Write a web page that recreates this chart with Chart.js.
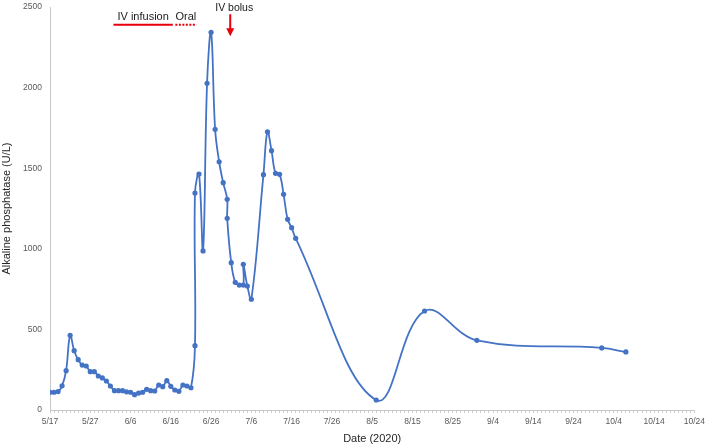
<!DOCTYPE html>
<html>
<head>
<meta charset="utf-8">
<script src="https://cdn.jsdelivr.net/npm/chart.js@4.4.1/dist/chart.umd.min.js"></script>
<style>
  html, body { margin: 0; padding: 0; background: #fff; }
  #wrap { width: 709px; height: 447px; }
</style>
</head>
<body>
<div id="wrap"><canvas id="alpChart"></canvas></div>
<script>
// ---------------------------------------------
// DATA (2020)
// ---------------------------------------------
const sampleDates = [
  "5/17", "5/18", "5/19", "5/20", "5/21", "5/22", "5/23", "5/24", "5/25", "5/26",
  "5/27", "5/28", "5/29", "5/30", "5/31", "6/1", "6/2", "6/3", "6/4", "6/5",
  "6/6", "6/7", "6/8", "6/9", "6/10", "6/11", "6/12", "6/13", "6/14", "6/15",
  "6/16", "6/17", "6/18", "6/19", "6/20", "6/21", "6/22", "6/22", "6/23", "6/24",
  "6/25", "6/26", "6/27", "6/28", "6/29", "6/30", "6/30", "7/1", "7/2", "7/3",
  "7/4", "7/4", "7/5", "7/6", "7/9", "7/10", "7/11", "7/12", "7/13", "7/14",
  "7/15", "7/16", "7/17", "8/6", "8/18", "8/31", "10/1", "10/7"
];
const alpValues = [
  110, 110, 114, 150, 244, 463, 368, 312, 279, 273,
  238, 238, 211, 199, 180, 149, 120, 120, 120, 113,
  110, 95, 105, 110, 128, 120, 118, 155, 145, 182,
  147, 124, 116, 155, 149, 138, 399, 1346, 1464, 987,
  2027, 2343, 1741, 1540, 1410, 1307, 1189, 914, 792, 775,
  775, 904, 769, 687, 1460, 1726, 1609, 1468, 1462, 1338,
  1183, 1131, 1065, 62, 614, 432, 385, 360
];

// x axis: 5/17 .. 10/24, a label every 10 days
const axisStart = "5/17";
const axisEnd = "10/24";
const labelEvery = 10;

// y axis
const yMax = 2500;
const yStep = 500;

// treatment bars on top
const treatmentLabels = ["IV infusion", "Oral"];
const treatmentStart = ["6/2", "6/17"];
const treatmentEnd = ["6/17", "6/22"];
const treatmentDotted = [false, true];
const bolusLabel = "IV bolus";
const bolusDate = "7/1";

// ---------------------------------------------
// HELPERS
// ---------------------------------------------
function toDay(md) {
    const [m, d] = md.split("/").map(Number);
    const [m0, d0] = axisStart.split("/").map(Number);
    return Math.round((Date.UTC(2020, m - 1, d) - Date.UTC(2020, m0 - 1, d0)) / 86400000);
}

function toLabel(day) {
    const [m0, d0] = axisStart.split("/").map(Number);
    const dt = new Date(Date.UTC(2020, m0 - 1, d0 + day));
    return (dt.getUTCMonth() + 1) + "/" + dt.getUTCDate();
}

const FONT = "'Liberation Sans', Arial, sans-serif";
const RED = "#E8000B";

// ---------------------------------------------
// ANNOTATIONS (treatment periods and bolus arrow)
// ---------------------------------------------
const treatmentPlugin = {
    id: "treatments",
    afterDatasetsDraw(chart) {
        const { ctx, scales: { x, y } } = chart;
        ctx.save();
        ctx.font = "11px " + FONT;
        ctx.textAlign = "center";
        ctx.textBaseline = "middle";

        const barY = y.getPixelForValue(2390);
        const textY = y.getPixelForValue(2440);

        treatmentLabels.forEach((label, i) => {
            const x0 = x.getPixelForValue(toDay(treatmentStart[i])) - (i === 0 ? 1 : -0.5);
            const x1 = x.getPixelForValue(toDay(treatmentEnd[i])) + (i === 0 ? -2 : 1.5);
            ctx.strokeStyle = RED;
            ctx.lineWidth = 2;
            ctx.setLineDash(treatmentDotted[i] ? [2, 1.5] : []);
            ctx.beginPath();
            ctx.moveTo(x0, barY);
            ctx.lineTo(x1, barY);
            ctx.stroke();
            ctx.fillStyle = "#1a1a1a";
            ctx.fillText(label, (x0 + x1) / 2, textY);
        });

        // bolus arrow
        ctx.setLineDash([]);
        const ax = x.getPixelForValue(toDay(bolusDate)) - 1;
        const aTop = y.getPixelForValue(2455);
        const aTip = y.getPixelForValue(2318);
        ctx.strokeStyle = RED;
        ctx.fillStyle = RED;
        ctx.lineWidth = 2;
        ctx.beginPath();
        ctx.moveTo(ax, aTop);
        ctx.lineTo(ax, aTip - 6);
        ctx.stroke();
        ctx.beginPath();
        ctx.moveTo(ax - 4, aTip - 8);
        ctx.lineTo(ax + 4, aTip - 8);
        ctx.lineTo(ax, aTip);
        ctx.closePath();
        ctx.fill();

        ctx.font = "10.5px " + FONT;
        ctx.fillStyle = "#1a1a1a";
        ctx.fillText(bolusLabel, ax + 4, y.getPixelForValue(2492));
        ctx.restore();
    }
};

// ---------------------------------------------
// CHART
// ---------------------------------------------
const points = sampleDates.map((d, i) => ({ x: toDay(d), y: alpValues[i] }));

new Chart(document.getElementById("alpChart"), {
    type: "line",
    data: {
        datasets: [{
            label: "ALP",
            data: points,
            borderColor: "#4472C4",
            backgroundColor: "#4472C4",
            borderWidth: 1.8,
            pointRadius: 2.6,
            pointBorderWidth: 0,
            pointBackgroundColor: "#4472C4",
            tension: 0.4,
            fill: false
        }]
    },
    options: {
        responsive: true,
        maintainAspectRatio: false,
        animation: false,
        layout: { padding: { top: 7, right: 0, left: 0, bottom: 0 } },
        plugins: {
            legend: { display: false },
            tooltip: { enabled: false }
        },
        scales: {
            x: {
                type: "linear",
                min: 0,
                max: toDay(axisEnd),
                ticks: {
                    stepSize: 1,
                    autoSkip: false,
                    maxRotation: 0,
                    padding: 4,
                    color: "#595959",
                    font: { family: FONT, size: 8.5 },
                    callback: v => (v % labelEvery === 0 ? toLabel(v) : "")
                },
                grid: { drawOnChartArea: false, drawTicks: true, tickLength: 3, color: "#CFCFCF" },
                border: { color: "#C8C8C8", width: 1 },
                title: {
                    display: true,
                    text: "Date (2020)",
                    color: "#262626",
                    font: { family: FONT, size: 11 },
                    padding: { top: 0, bottom: 1 }
                },
                afterFit: s => { s.height = 37; s.paddingTop = 0; s.paddingBottom = 0; }
            },
            y: {
                min: 0,
                max: yMax,
                ticks: {
                    stepSize: yStep,
                    padding: 8,
                    color: "#595959",
                    font: { family: FONT, size: 8.5 },
                    callback: v => String(v)
                },
                grid: { display: false, drawTicks: false },
                border: { color: "#C8C8C8", width: 1 },
                title: {
                    display: true,
                    text: "Alkaline phosphatase (U/L)",
                    color: "#262626",
                    font: { family: FONT, size: 11 },
                    padding: { top: 0, bottom: 0 }
                },
                afterFit: s => { s.width = 50; s.paddingTop = 0; s.paddingBottom = 0; }
            }
        }
    },
    plugins: [treatmentPlugin]
});
</script>
</body>
</html>
